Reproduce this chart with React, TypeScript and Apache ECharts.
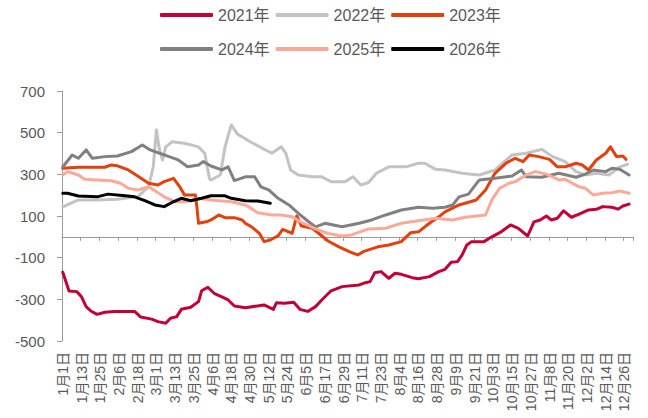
import React, { useEffect, useRef } from "react";
import * as echarts from "echarts";

// Category labels: every day of a leap-year calendar (M月D日)
const monthLengths = [31, 29, 31, 30, 31, 30, 31, 31, 30, 31, 30, 31];
const dayLabels: string[] = [];
monthLengths.forEach((len, m) => {
  for (let d = 1; d <= len; d++) dayLabels.push(`${m + 1}月${d}日`);
});

const seriesNames = ["2021年", "2022年", "2023年", "2024年", "2025年", "2026年"];
const seriesColors = ["#C20034", "#C3C3C3", "#E2400C", "#808080", "#FCA99A", "#000000"];

// [day index, value]
const s2021: [number, number][] = [[0,-170],[4,-260],[9,-263],[12,-288],[15,-335],[18,-356],[22,-372],[27,-362],[33,-358],[46,-358],[50,-385],[57,-395],[61,-407],[66,-415],[69,-391],[73,-383],[76,-348],[82,-338],[87,-311],[89,-259],[93,-242],[97,-271],[103,-292],[106,-303],[110,-332],[117,-340],[129,-327],[135,-348],[137,-316],[142,-319],[148,-314],[152,-348],[157,-358],[162,-335],[166,-303],[172,-259],[179,-239],[190,-231],[194,-220],[197,-215],[200,-172],[204,-167],[209,-199],[213,-175],[217,-180],[224,-196],[228,-201],[235,-191],[241,-167],[245,-156],[249,-122],[253,-119],[256,-87],[259,-39],[262,-23],[270,-23],[275,0],[281,24],[287,57],[292,41],[298,4],[302,72],[306,81],[310,100],[313,81],[317,89],[321,125],[326,94],[331,109],[337,129],[342,132],[346,145],[352,142],[356,133],[359,148],[363,157]];

const s2022: [number, number][] = [[0,144],[10,177],[22,177],[35,180],[48,193],[55,240],[58,336],[60,513],[62,417],[64,369],[66,432],[70,456],[78,449],[87,432],[91,401],[94,280],[95,273],[101,297],[104,432],[108,537],[112,493],[121,453],[130,417],[134,401],[140,432],[143,401],[146,321],[151,297],[160,288],[166,288],[172,265],[181,265],[186,288],[191,249],[196,261],[201,305],[209,336],[220,336],[228,353],[232,353],[239,324],[245,321],[256,305],[267,297],[277,321],[288,393],[297,401],[307,420],[314,385],[322,361],[329,313],[335,297],[342,305],[350,297],[357,336],[362,348]];

const s2023: [number, number][] = [[0,329],[10,334],[27,334],[31,345],[35,341],[42,321],[48,292],[55,257],[61,249],[65,265],[71,281],[75,240],[78,201],[85,201],[86,140],[87,65],[92,72],[95,81],[100,105],[104,92],[110,92],[115,81],[117,65],[121,48],[123,36],[126,17],[129,-23],[133,-15],[138,5],[141,36],[147,17],[150,100],[153,52],[160,41],[164,17],[170,-20],[177,-48],[184,-72],[189,-87],[193,-70],[202,-48],[209,-39],[217,-23],[223,20],[228,24],[235,65],[241,96],[245,120],[254,153],[265,177],[271,225],[277,305],[284,353],[290,377],[295,361],[299,393],[305,385],[312,372],[317,336],[322,336],[329,353],[333,345],[337,321],[342,369],[348,401],[351,432],[355,385],[359,388],[361,372]];

const s2024: [number, number][] = [[0,336],[1,345],[6,393],[10,377],[15,417],[19,377],[27,385],[35,388],[44,409],[51,441],[56,417],[65,393],[74,369],[80,336],[87,345],[90,361],[95,340],[102,321],[106,336],[110,270],[117,288],[123,288],[127,240],[132,225],[138,185],[145,153],[151,113],[157,76],[162,48],[168,65],[179,48],[190,65],[198,81],[207,105],[217,129],[228,142],[237,137],[245,142],[250,153],[254,192],[260,205],[267,273],[277,281],[288,292],[294,321],[297,288],[307,286],[318,305],[329,286],[335,301],[340,321],[348,313],[352,329],[357,324],[363,297]];

const s2025: [number, number][] = [[0,297],[3,313],[10,297],[14,276],[22,273],[31,269],[37,257],[42,233],[48,225],[55,240],[60,217],[65,192],[72,168],[78,168],[87,185],[95,177],[108,168],[117,153],[119,145],[125,116],[134,105],[140,105],[147,96],[153,70],[162,38],[170,16],[179,4],[185,9],[196,38],[207,41],[217,65],[228,77],[239,89],[250,81],[258,94],[271,105],[275,177],[280,233],[286,257],[290,265],[297,297],[303,313],[310,301],[318,273],[322,276],[331,240],[335,233],[340,201],[346,209],[352,212],[357,220],[363,209]];

const s2026: [number, number][] = [[0,209],[3,209],[10,196],[22,192],[29,205],[40,197],[46,192],[53,173],[59,153],[65,145],[70,165],[76,185],[82,173],[89,185],[95,197],[104,197],[108,185],[117,173],[125,172],[133,161]];

const allSeries = [s2021, s2022, s2023, s2024, s2025, s2026];

const FONT = '"Liberation Sans", Arial, "Noto Sans CJK SC", sans-serif';
const TEXT_COLOR = "#595959";
const AXIS_COLOR = "#9A9A9A";

export default function App() {
  const ref = useRef<HTMLDivElement>(null);

  useEffect(() => {
    document.body.style.margin = "0";
    if (!ref.current) return;
    const chart = echarts.init(ref.current, undefined, { renderer: "svg" });

    const legendCommon = {
      orient: "horizontal" as const,
      left: 160,
      padding: 0,
      itemWidth: 53,
      itemHeight: 4,
      itemGap: 6,
      icon: "roundRect",
      textStyle: { fontSize: 16, color: TEXT_COLOR, fontFamily: FONT },
    };

    chart.setOption({
      animation: false,
      backgroundColor: "#ffffff",
      color: seriesColors,
      textStyle: { fontFamily: FONT },
      legend: [
        { ...legendCommon, top: 7, data: seriesNames.slice(0, 3) },
        { ...legendCommon, top: 41, data: seriesNames.slice(3, 6) },
      ],
      grid: { left: 62, right: 15, top: 91, bottom: 77, containLabel: false },
      xAxis: [
        {
          type: "category",
          data: dayLabels,
          position: "bottom",
          boundaryGap: true,
          axisLine: { show: false, onZero: false },
          axisTick: { show: false },
          axisLabel: {
            interval: 11,
            rotate: 90,
            margin: 11,
            fontSize: 14,
            color: TEXT_COLOR,
            fontFamily: FONT,
          },
          splitLine: { show: false },
        },
        {
          type: "category",
          data: dayLabels,
          position: "bottom",
          boundaryGap: true,
          axisLine: {
            show: true,
            onZero: true,
            onZeroAxisIndex: 0,
            lineStyle: { color: AXIS_COLOR, width: 1 },
          },
          axisTick: {
            show: true,
            interval: 11,
            length: 4,
            inside: false,
            lineStyle: { color: AXIS_COLOR, width: 1 },
          },
          axisLabel: { show: false },
          splitLine: { show: false },
        },
      ],
      yAxis: {
        type: "value",
        min: -500,
        max: 700,
        interval: 200,
        axisLine: { show: true, lineStyle: { color: AXIS_COLOR, width: 1 } },
        axisTick: { show: true, length: 5, inside: false, lineStyle: { color: AXIS_COLOR } },
        axisLabel: { fontSize: 15, color: TEXT_COLOR, margin: 17, fontFamily: FONT },
        splitLine: { show: false },
      },
      series: allSeries.map((d, i) => ({
        name: seriesNames[i],
        type: "line",
        xAxisIndex: 0,
        yAxisIndex: 0,
        data: d,
        symbol: "none",
        showSymbol: false,
        smooth: false,
        lineStyle: { width: 3, color: seriesColors[i], cap: "round", join: "round" },
        itemStyle: { color: seriesColors[i] },
        z: 2 + i,
      })),
    });

    return () => chart.dispose();
  }, []);

  return <div ref={ref} style={{ width: 648, height: 418 }} />;
}
